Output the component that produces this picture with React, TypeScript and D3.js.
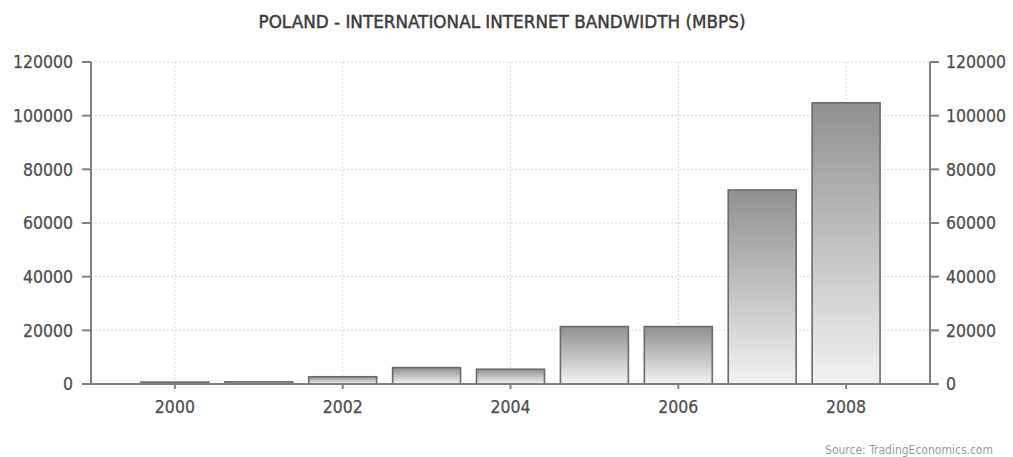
import React from "react";
import * as d3 from "d3";

const years: number[] = [2000, 2001, 2002, 2003, 2004, 2005, 2006, 2007, 2008];
const bandwidth: number[] = [700, 800, 2700, 6100, 5500, 21400, 21400, 72300, 104800];
const yTicks: number[] = [0, 20000, 40000, 60000, 80000, 100000, 120000];
const xTickYears: number[] = [2000, 2002, 2004, 2006, 2008];
const title = "POLAND - INTERNATIONAL INTERNET BANDWIDTH (MBPS)";
const source = "Source: TradingEconomics.com";

const W = 1013;
const H = 457;
const left = 91;
const right = 930;
const top = 62;
const bottom = 384;

export default function App() {
  const x = d3.scaleLinear().domain([1999, 2009]).range([left, right]);
  const y = d3.scaleLinear().domain([0, 120000]).range([bottom, top]);
  const step = x(2001) - x(2000);
  const bw = step * 0.81;
  const font = "'DejaVu Sans Condensed', 'DejaVu Sans', sans-serif";
  const textColor = "#4d4d4d";
  const axisColor = "#808080";

  return (
    <svg width={W} height={H} style={{ position: "absolute", left: 0, top: 0, background: "#fff" }} fontFamily={font}>
      <defs>
        <linearGradient id="barGrad" x1="0" y1="0" x2="0" y2="1">
          <stop offset="0%" stopColor="#909090" />
          <stop offset="100%" stopColor="#f2f2f2" />
        </linearGradient>
      </defs>
      <rect x={0} y={0} width={W} height={H} fill="#fff" />
      <text x={502} y={28} textAnchor="middle" fontSize={17} fill="#3a3a3a" stroke="#3a3a3a" strokeWidth={0.4} textLength={487} lengthAdjust="spacingAndGlyphs">
        {title}
      </text>
      {yTicks.map((t) => (
        <line key={"hg" + t} x1={left} x2={right} y1={y(t)} y2={y(t)} stroke="#d8d8d8" strokeDasharray="2,2" strokeWidth={1} />
      ))}
      {xTickYears.map((t) => (
        <line key={"vg" + t} x1={x(t)} x2={x(t)} y1={top} y2={bottom} stroke="#d8d8d8" strokeDasharray="2,2" strokeWidth={1} />
      ))}
      {years.map((yr, i) => (
        <rect
          key={"b" + yr}
          x={x(yr) - bw / 2}
          y={y(bandwidth[i])}
          width={bw}
          height={bottom - y(bandwidth[i])}
          fill="url(#barGrad)"
          stroke="#6a6a6a"
          strokeWidth={1.6}
        />
      ))}
      <line x1={left} x2={left} y1={top} y2={bottom} stroke={axisColor} strokeWidth={2} />
      <line x1={right} x2={right} y1={top} y2={bottom} stroke={axisColor} strokeWidth={2} />
      <line x1={left} x2={right} y1={bottom} y2={bottom} stroke={axisColor} strokeWidth={2} />
      {yTicks.map((t) => (
        <g key={"yt" + t}>
          <line x1={left - 9} x2={left} y1={y(t)} y2={y(t)} stroke={axisColor} strokeWidth={2} />
          <text x={73} y={y(t)} dy="0.36em" textAnchor="end" fontSize={17.5} fill={textColor} stroke={textColor} strokeWidth={0.25}>
            {t}
          </text>
          <line x1={right} x2={right + 9} y1={y(t)} y2={y(t)} stroke={axisColor} strokeWidth={2} />
          <text x={946} y={y(t)} dy="0.36em" textAnchor="start" fontSize={17.5} fill={textColor} stroke={textColor} strokeWidth={0.25}>
            {t}
          </text>
        </g>
      ))}
      {xTickYears.map((t) => (
        <g key={"xt" + t}>
          <line x1={x(t)} x2={x(t)} y1={bottom} y2={bottom + 5} stroke={axisColor} strokeWidth={2} />
          <text x={x(t)} y={413} textAnchor="middle" fontSize={17.5} fill={textColor} stroke={textColor} strokeWidth={0.25}>
            {t}
          </text>
        </g>
      ))}
      <text x={993} y={454} textAnchor="end" fontSize={12} fill="#999">
        {source}
      </text>
    </svg>
  );
}
